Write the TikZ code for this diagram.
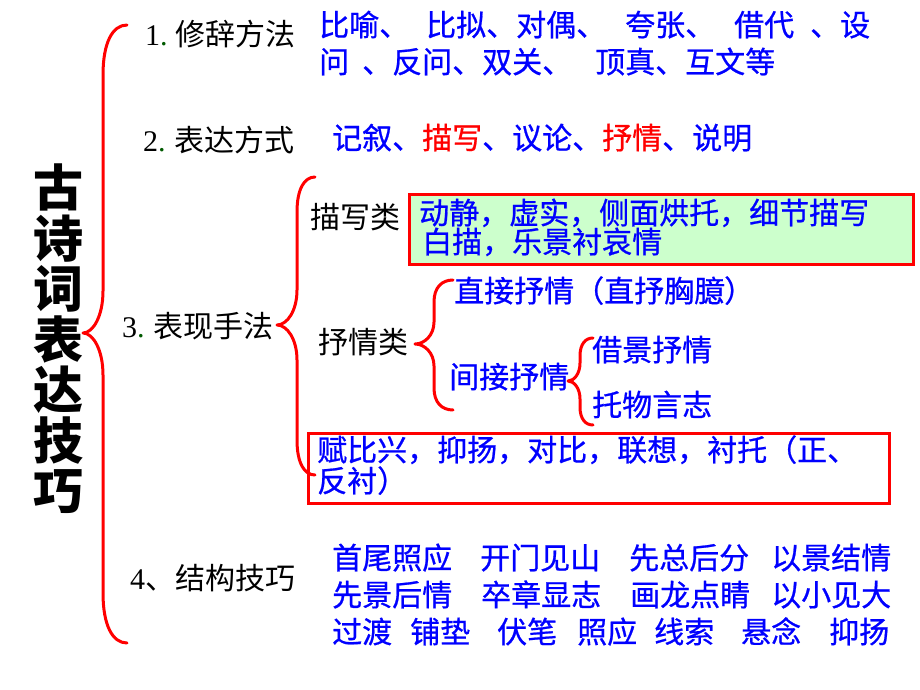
\documentclass[tikz,border=0pt]{standalone}
\usepackage{fontspec}
\setmainfont{Noto Sans CJK SC}
\newfontfamily\bluefont{Noto Sans CJK SC}[FakeBold=0.7]
\newfontfamily\serifnum{Liberation Serif}
\definecolor{tblue}{RGB}{0,0,255}
\definecolor{tred}{RGB}{255,0,0}
\definecolor{tgreen}{RGB}{204,255,204}
\definecolor{dotgreen}{RGB}{0,90,0}
\tikzset{
  bluetxt/.style={text=tblue, inner sep=0, anchor=base west, font=\bluefont\fontsize{30}{30}\selectfont},
  blacktxt/.style={text=black, inner sep=0, anchor=base west, font=\fontsize{30}{30}\selectfont},
  bracestyle/.style={draw=tred, line width=3pt, line cap=round, line join=round},
  boxstyle/.style={draw=tred, line width=2.5pt, inner sep=0, anchor=north west},
}
% xend, xv, xtip, ytop, ytip, ybot, r, rt
\newcommand\mybrace[8]{%
  \draw[bracestyle] (#1,#4) .. controls ({#2+0.4*(#1-#2)},#4) and (#2,{#4+0.35*#7}) .. (#2,{#4+#7})
    -- (#2,{#5-#8}) .. controls (#2,{#5-0.4*#8}) and ({#3+0.5*(#2-#3)},#5) .. (#3,#5)
    .. controls ({#3+0.5*(#2-#3)},#5) and (#2,{#5+0.4*#8}) .. (#2,{#5+#8})
    -- (#2,{#6-#7}) .. controls (#2,{#6-0.35*#7}) and ({#2+0.4*(#1-#2)},#6) .. (#1,#6);}
\newcommand\numlab[1]{{\serifnum #1\textcolor{dotgreen}{.}}}
\begin{document}
\begin{tikzpicture}[x=1pt,y=-1pt]
\fill[white] (0,0) rectangle (920,690);
\useasboundingbox (0,0) rectangle (920,690);

% title
\node[font=\fontsize{50}{50.5}\selectfont\bfseries, align=center, inner sep=0] (title) at (58,339)
  {古\\诗\\词\\表\\达\\技\\巧};

% braces
\mybrace{127}{103}{83}{25}{333}{643}{50}{42}
\mybrace{315}{297}{277}{177}{325}{475}{35}{35}
\mybrace{453}{434}{415}{280}{344}{410}{22}{22}
\mybrace{593}{580}{568}{338}{381}{425}{18}{18}

% level-1 labels
\node[blacktxt] (l1) at (145,46) {\numlab{1}\hspace{8pt}修辞方法};
\node[blacktxt] (l2) at (143,151) {\numlab{2}\hspace{9pt}表达方式};
\node[blacktxt] (l3) at (122,337) {\numlab{3}\hspace{9pt}表现手法};
\node[blacktxt] (l4) at (130,589) {{\serifnum 4}、结构技巧};

% 1
\node[bluetxt] (r1a) at (319,36) {比喻、\hspace{17pt}比拟、对偶、\hspace{19pt}夸张、\hspace{19pt}借代\hspace{16pt}、设};
\node[bluetxt] (r1b) at (319,73) {问\hspace{13pt}、反问、双关、\hspace{23pt}顶真、互文等};
% 2
\node[bluetxt] (r2) at (332,149) {记叙、{\color{tred}描写}、议论、{\color{tred}抒情}、说明};

% 3
\node[blacktxt] (mx) at (310,228) {描写类};
\node[boxstyle, fill=tgreen, minimum width=504pt, minimum height=70pt] (gbox) at (408,193) {};
\node[bluetxt] (g1) at (419,224) {动静，虚实，侧面烘托，细节描写};
\node[bluetxt] (g2) at (422,253) {白描，乐景衬哀情};

\node[blacktxt] (sq) at (318,353) {抒情类};
\node[bluetxt] (zj) at (454,302) {直接抒情（直抒胸臆）};
\node[bluetxt] (jj) at (449,388) {间接抒情};
\node[bluetxt] (jing) at (592,361) {借景抒情};
\node[bluetxt] (tw) at (592,416) {托物言志};

\node[boxstyle, minimum width=581pt, minimum height=70pt] (rbox) at (307,432) {};
\node[bluetxt] (f1) at (317,461) {赋比兴，抑扬，对比，联想，衬托（正、};
\node[bluetxt] (f2) at (317,492) {反衬）};

% 4
\node[bluetxt] (a1) at (332,569) {首尾照应};
\node[bluetxt] (a2) at (480,569) {开门见山};
\node[bluetxt] (a3) at (629,569) {先总后分};
\node[bluetxt] (a4) at (771,569) {以景结情};
\node[bluetxt] (b1) at (332,606) {先景后情};
\node[bluetxt] (b2) at (481,606) {卒章显志};
\node[bluetxt] (b3) at (630,606) {画龙点睛};
\node[bluetxt] (b4) at (771,606) {以小见大};
\node[bluetxt] (c1) at (332,643) {过渡};
\node[bluetxt] (c2) at (410,643) {铺垫};
\node[bluetxt] (c3) at (497,643) {伏笔};
\node[bluetxt] (c4) at (577,643) {照应};
\node[bluetxt] (c5) at (654,643) {线索};
\node[bluetxt] (c6) at (741,643) {悬念};
\node[bluetxt] (c7) at (829,643) {抑扬};
\end{tikzpicture}
\end{document}
